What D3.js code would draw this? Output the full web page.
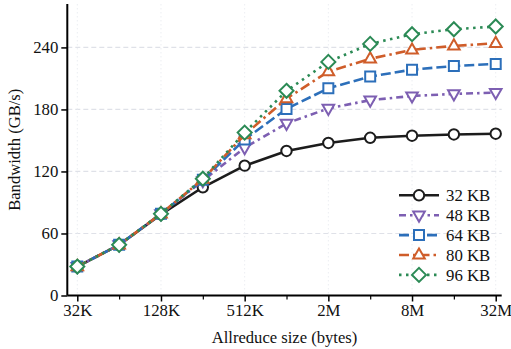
<!DOCTYPE html>
<html><head><meta charset="utf-8">
<script src="https://cdn.jsdelivr.net/npm/d3@7"></script>
<style>html,body{margin:0;padding:0;background:#fff;}svg{display:block;}
svg text{font-family:"Liberation Serif","Times New Roman",serif !important;}</style>
</head><body>
<svg id="chart" width="511" height="349"></svg>
<script>
const sizes = [32768, 65536, 131072, 262144, 524288, 1048576, 2097152, 4194304, 8388608, 16777216, 33554432];
const seriesNames = ["32 KB", "48 KB", "64 KB", "80 KB", "96 KB"];
const kb32 = [28, 49, 78.5, 104.7, 125.6, 139.8, 147.6, 152.6, 154.6, 155.8, 156.5];
const kb48 = [28, 49, 79, 111, 143, 166.5, 181, 189, 193, 195, 196.3];
const kb64 = [28, 49, 79, 112, 151, 180.5, 200.5, 211.8, 218.5, 222, 224];
const kb80 = [28, 49, 79, 112.5, 155.5, 190.5, 216.6, 229, 237.6, 241.5, 244];
const kb96 = [28, 49, 79, 113, 157.6, 198, 226, 243.4, 252.8, 257.6, 260.2];
const xMajorTicks = [32768, 131072, 524288, 2097152, 8388608, 33554432];
const xMajorLabels = ["32K", "128K", "512K", "2M", "8M", "32M"];
const xMinorTicks = [65536, 262144, 1048576, 4194304, 16777216];
const yTicks = [0, 60, 120, 180, 240];

const seriesValues = [kb32, kb48, kb64, kb80, kb96];
const colors = ["#1c1c1c", "#7d5fb2", "#2c6fba", "#cf5d2a", "#2b8a55"];
const dashes = [null, "7,4,2.5,4", "10,4", "10,4,2.5,4", "2.5,4.5"];
const markers = ["circle", "tdown", "square", "tup", "diamond"];

const svg = d3.select("#chart");
const font = "Liberation Serif";
const L = 67.3, R = 501.7, T = 4, B = 295.5;
const x = d3.scaleLog().base(2).domain([Math.pow(2, 14.761), Math.pow(2, 25.143)]).range([L, R]);
const y = d3.scaleLinear().domain([0, 282]).range([B, T]);

// grid
svg.append("g").selectAll("line").data(yTicks.filter(d => d > 0)).join("line")
  .attr("x1", L).attr("x2", R).attr("y1", d => y(d)).attr("y2", d => y(d))
  .attr("stroke", "#dfe1e8").attr("stroke-width", 1.2).attr("stroke-dasharray", "5,3");
svg.append("g").selectAll("line").data(xMajorTicks).join("line")
  .attr("x1", d => x(d)).attr("x2", d => x(d)).attr("y1", T).attr("y2", B)
  .attr("stroke", "#eceef2").attr("stroke-width", 1).attr("stroke-dasharray", "1.5,2.5");

// axes
const xAxis = d3.axisBottom(x).tickValues(xMajorTicks).tickFormat((d, i) => xMajorLabels[i]).tickSize(6).tickPadding(3);
const gx = svg.append("g").attr("transform", `translate(0,${B})`).call(xAxis);
gx.attr("font-family", font);
gx.select(".domain").attr("stroke", "#000").attr("stroke-width", 2).attr("d", `M${L},0H${R}`);
gx.selectAll(".tick line").attr("stroke", "#000").attr("stroke-width", 1.5);
gx.selectAll(".tick text").attr("font-size", 16.8).attr("fill", "#111");
const gxm = svg.append("g").attr("transform", `translate(0,${B})`).call(d3.axisBottom(x).tickValues(xMinorTicks).tickFormat("").tickSize(4));
gxm.select(".domain").remove();
gxm.selectAll(".tick line").attr("stroke", "#000").attr("stroke-width", 1.2);

const yAxis = d3.axisLeft(y).tickValues(yTicks).tickSize(6).tickPadding(3);
const gy = svg.append("g").attr("transform", `translate(${L},0)`).call(yAxis);
gy.attr("font-family", font);
gy.select(".domain").attr("stroke", "#000").attr("stroke-width", 2).attr("d", `M0,${T}V${B}`);
gy.selectAll(".tick line").attr("stroke", "#000").attr("stroke-width", 1.5);
gy.selectAll(".tick text").attr("font-size", 16.8).attr("fill", "#111");

// labels
svg.append("text").attr("x", (L + R) / 2).attr("y", 343).attr("text-anchor", "middle")
  .attr("font-family", font).attr("font-size", 16.6).attr("fill", "#111").text("Allreduce size (bytes)");
svg.append("text").attr("transform", `translate(20,${(T + B) / 2}) rotate(-90)`).attr("text-anchor", "middle")
  .attr("font-family", font).attr("font-size", 16.6).attr("fill", "#111").text("Bandwidth (GB/s)");

function markerPath(type) {
  switch (type) {
    case "circle": return null;
    case "square": return "M-5,-5H5V5H-5Z";
    case "tup": return "M0,-6.5L5.8,3.6L-5.8,3.6Z";
    case "tdown": return "M0,6.5L5.8,-3.6L-5.8,-3.6Z";
    case "diamond": return "M0,-7L7,0L0,7L-7,0Z";
  }
}
function drawMarker(g, type, cx, cy, color) {
  if (type === "circle") {
    g.append("circle").attr("cx", cx).attr("cy", cy).attr("r", 5.2)
      .attr("fill", "#fff").attr("stroke", color).attr("stroke-width", 2);
  } else {
    g.append("path").attr("d", markerPath(type)).attr("transform", `translate(${cx},${cy})`)
      .attr("fill", "#fff").attr("stroke", color).attr("stroke-width", 2).attr("stroke-linejoin", "miter");
  }
}

const line = d3.line().x(d => x(d[0])).y(d => y(d[1]));
seriesValues.forEach((vals, i) => {
  const g = svg.append("g");
  const pts = sizes.map((s, j) => [s, vals[j]]);
  g.append("path").attr("d", line(pts)).attr("fill", "none").attr("stroke", colors[i])
    .attr("stroke-width", 2.6).attr("stroke-dasharray", dashes[i]).attr("stroke-linecap", "butt");
  pts.forEach(p => drawMarker(g, markers[i], x(p[0]), y(p[1]), colors[i]));
});

// legend
const lg = svg.append("g");
seriesNames.forEach((name, i) => {
  const yy = 195.3 + i * 19.9;
  lg.append("line").attr("x1", 399).attr("x2", 439).attr("y1", yy).attr("y2", yy)
    .attr("stroke", colors[i]).attr("stroke-width", 2.6).attr("stroke-dasharray", dashes[i]);
  drawMarker(lg, markers[i], 419, yy, colors[i]);
  lg.append("text").attr("x", 446).attr("y", yy + 5.8).attr("font-family", font).attr("font-size", 16.8)
    .attr("fill", "#111").text(name);
});
</script>
</body></html>
